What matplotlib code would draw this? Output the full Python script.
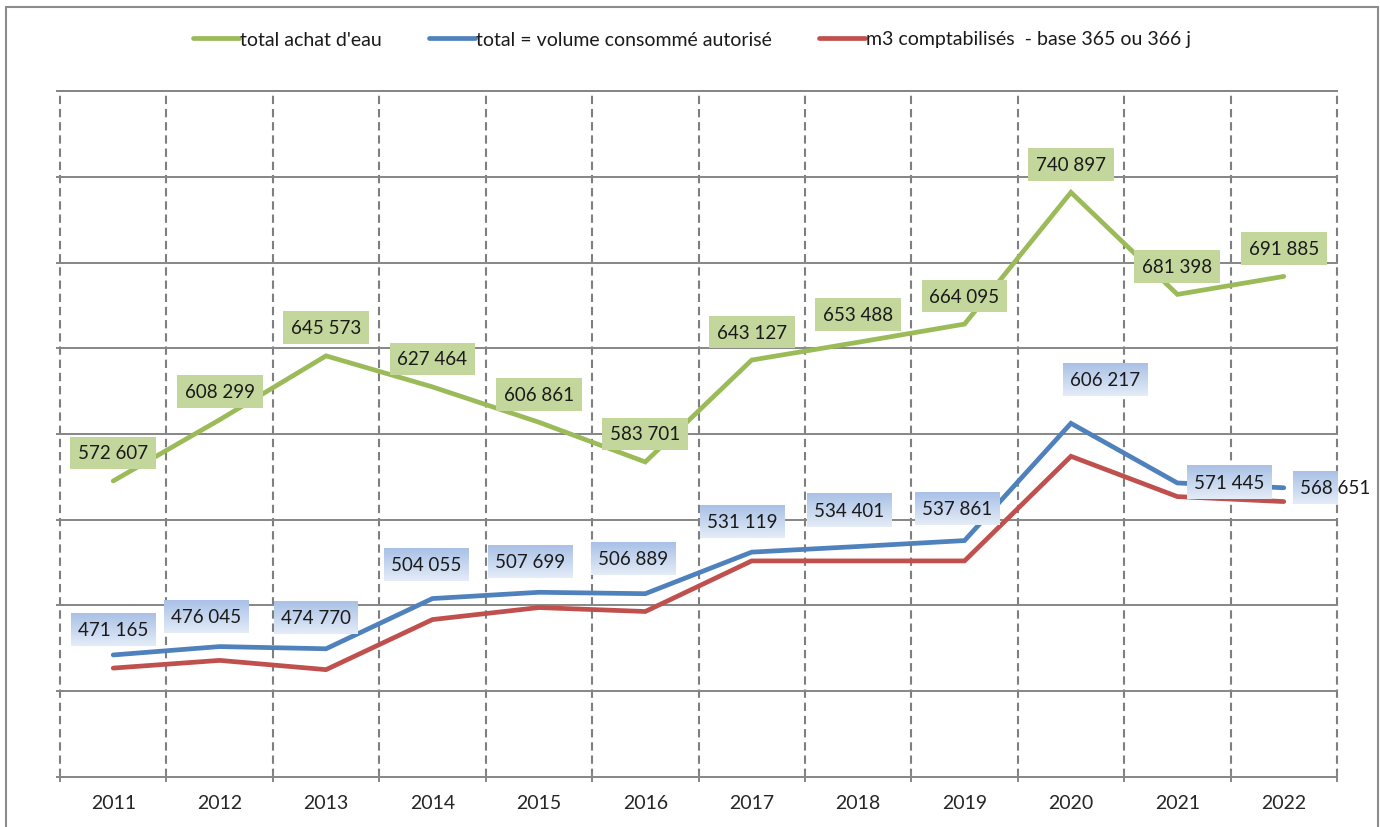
import matplotlib
matplotlib.use("Agg")
import matplotlib.pyplot as plt
import numpy as np
from matplotlib.patches import Rectangle
from matplotlib.colors import LinearSegmentedColormap

plt.rcParams['font.family'] = ['Lato', 'DejaVu Sans']
plt.rcParams['lines.scale_dashes'] = False

years = ['2011', '2012', '2013', '2014', '2015', '2016', '2017', '2018', '2019', '2020', '2021', '2022']
achat = [572607, 608299, 645573, 627464, 606861, 583701, 643127, 653488, 664095, 740897, 681398, 691885]
autorise = [471165, 476045, 474770, 504055, 507699, 506889, 531119, 534401, 537861, 606217, 571445, 568651]
comptabilises = [463500, 468000, 462600, 491800, 498800, 496500, 526000, 526000, 526000, 587000, 563500, 560600]

names = ["total achat d'eau", "total = volume consommé autorisé", "m3 comptabilisés  - base 365 ou 366 j"]
colors = ['#9bbb59', '#4f81bd', '#c0504d']

# label offsets in pixels (dx, dy) relative to the data point
green_off = [(0, 28)] * 12
blue_off = [(0, 25), (-14, 30), (-10, 31), (-6, 34), (-9, 31), (-12, 35),
            (-9, 31), (-9, 36), (-7, 32), (34, 44), (52, 0), (51, 0)]

def fmt(v):
    return f"{v:,}".replace(",", " ")

W, H = 1380, 828
fig = plt.figure(figsize=(W / 100, H / 100), dpi=100)
ax = fig.add_axes([60 / W, 1 - 778 / H, (1337 - 60) / W, (778 - 92) / H])

x = np.arange(len(years))
l1, = ax.plot(x, achat, color=colors[0], lw=3.4, solid_capstyle='round', solid_joinstyle='miter', zorder=3)
l2, = ax.plot(x, autorise, color=colors[1], lw=3.4, solid_capstyle='round', solid_joinstyle='miter', zorder=3)
l3, = ax.plot(x, comptabilises, color=colors[2], lw=3.4, solid_capstyle='round', solid_joinstyle='miter', zorder=2.9)

ax.set_xlim(-0.5, len(years) - 0.5)
ax.set_ylim(400000, 800000)
ax.set_yticks(np.arange(400000, 800001, 50000))
ax.set_yticklabels([])
ax.set_xticks(x)
ax.set_xticklabels(years, fontsize=14, color='#262626')
ax.set_xticks(np.arange(-0.5, len(years)), minor=True)
ax.tick_params(axis='x', which='major', length=0, pad=12)
ax.tick_params(axis='x', which='minor', length=7, direction='inout', color='#868686', width=1.4)
ax.tick_params(axis='y', length=6, direction='inout', color='#868686', width=1.4)

for yv in np.arange(450000, 800001, 50000):
    ax.axhline(yv, color='#868686', lw=1.4, zorder=0.5, clip_on=False)
for b in np.arange(-0.5, len(years)):
    ax.axvline(b, color='#7f7f7f', lw=1.5, dashes=(6, 3.5), zorder=0, clip_on=False)
for s in ['right', 'left']:
    ax.spines[s].set_visible(False)
for s in ['bottom', 'top']:
    ax.spines[s].set_color('#868686')
    ax.spines[s].set_linewidth(1.4)

for i, v in enumerate(achat):
    dx, dy = green_off[i]
    ax.annotate(fmt(v), (x[i], v), xytext=(dx * 0.72, dy * 0.72), textcoords='offset points',
                ha='center', va='center', fontsize=13.5, color='#1a1a1a', zorder=5,
                bbox=dict(boxstyle='square,pad=0.42', fc='#c3d69b', ec='none'))

blue_texts = []
for i, v in enumerate(autorise):
    dx, dy = blue_off[i]
    t = ax.annotate(fmt(v), (x[i], v), xytext=(dx * 0.72, dy * 0.72), textcoords='offset points',
                    ha='center', va='center', fontsize=13.5, color='#1a1a1a', zorder=6)
    blue_texts.append(t)

# gradient backgrounds for the blue labels
fig.canvas.draw()
renderer = fig.canvas.get_renderer()
cmap = LinearSegmentedColormap.from_list('bl', ['#e4ecf7', '#a9c1e6'])
grad = np.linspace(0, 1, 64).reshape(-1, 1)
inv = ax.transData.inverted()
for t in blue_texts:
    bb = t.get_window_extent(renderer)
    px, py = 7, 8
    x0, y0 = inv.transform((bb.x0 - px, bb.y0 - py))
    x1, y1 = inv.transform((bb.x1 + px, bb.y1 + py))
    ax.imshow(grad, extent=(x0, x1, y0, y1), origin='lower', cmap=cmap, aspect='auto',
              zorder=5.5, interpolation='bicubic')
ax.set_xlim(-0.5, len(years) - 0.5)
ax.set_ylim(400000, 800000)
ax.set_aspect('auto')

fig.legend([l1, l2, l3], names, loc='center', bbox_to_anchor=(692 / W, 1 - 40 / H), ncol=3,
           frameon=False, fontsize=14, handlelength=2.4, handletextpad=0.05, columnspacing=2.4,
           labelcolor='#1a1a1a')

fig.patches.append(Rectangle((6 / W, -0.05), (1378 - 6) / W, 1.05 - 8 / H, transform=fig.transFigure,
                             fill=False, ec='#8c8c8c', lw=1.5))

fig.savefig('out.png', dpi=100, facecolor='white')
